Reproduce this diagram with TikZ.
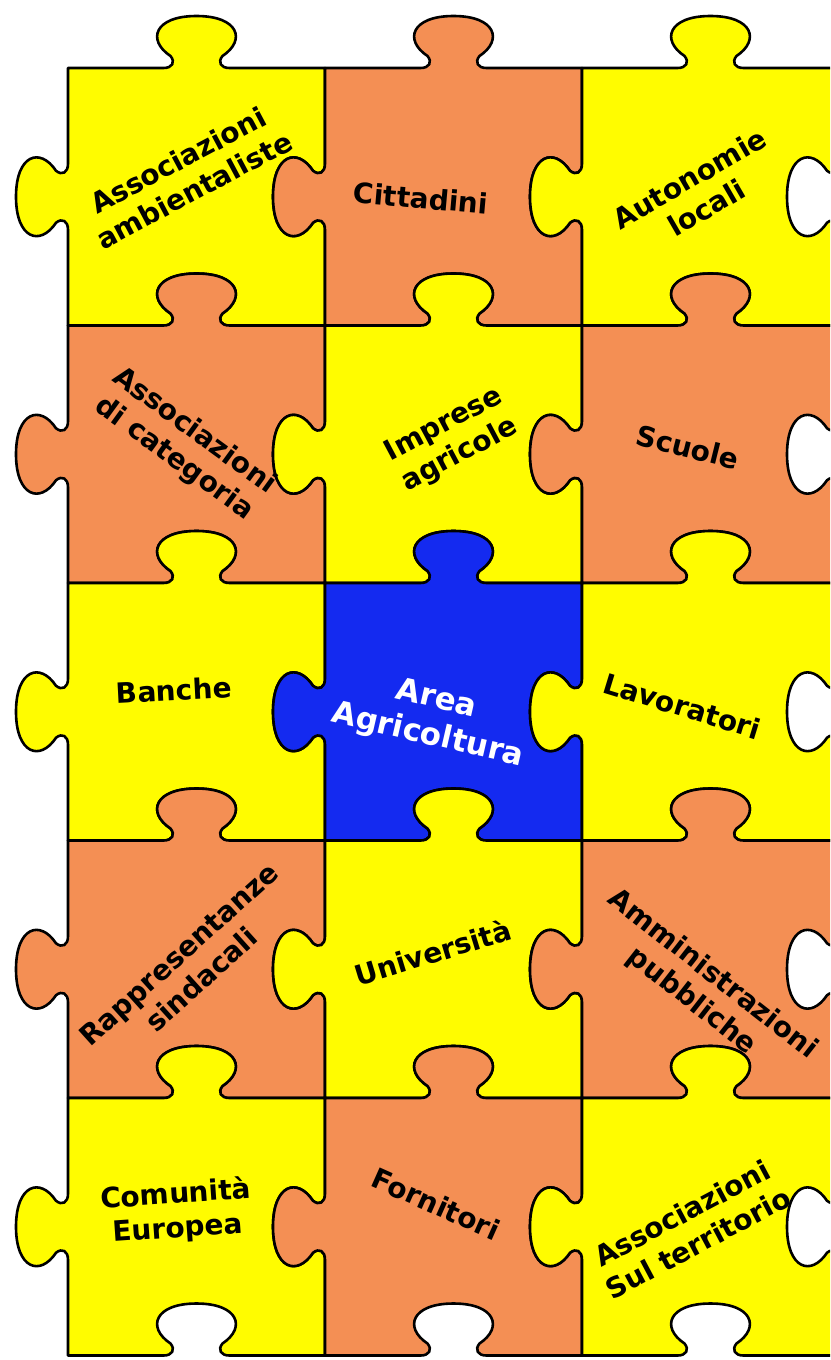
\documentclass[tikz,border=0pt]{standalone}
\usepackage{fontspec}
\setmainfont{DejaVu Sans}
\definecolor{pzyellow}{RGB}{255,252,0}
\definecolor{pzorange}{RGB}{244,143,84}
\definecolor{pzblue}{RGB}{20,42,240}
\tikzset{
  piece/.pic={
    \path[pic actions] (0,0)
      -- (95.5,0) .. controls (104.5,0) and (107.5,-6) .. (102.5,-12)
      .. controls (78.5,-28) and (86.5,-52) .. (128.5,-52)
      .. controls (170.5,-52) and (178.5,-28) .. (154.5,-12)
      .. controls (149.5,-6) and (152.5,0) .. (161.5,0)
      -- (257,0)
      -- (257,95.75) .. controls (257,104.75) and (251,107.75) .. (245,102.75)
      .. controls (229,78.75) and (205,86.75) .. (205,128.75)
      .. controls (205,170.75) and (229,178.75) .. (245,154.75)
      .. controls (251,149.75) and (257,152.75) .. (257,161.75)
      -- (257,257.5)
      -- (161.5,257.5) .. controls (152.5,257.5) and (149.5,251.5) .. (154.5,245.5)
      .. controls (178.5,229.5) and (170.5,205.5) .. (128.5,205.5)
      .. controls (86.5,205.5) and (78.5,229.5) .. (102.5,245.5)
      .. controls (107.5,251.5) and (104.5,257.5) .. (95.5,257.5)
      -- (0,257.5)
      -- (0,161.75) .. controls (0,152.75) and (-6,149.75) .. (-12,154.75)
      .. controls (-28,178.75) and (-52,170.75) .. (-52,128.75)
      .. controls (-52,86.75) and (-28,78.75) .. (-12,102.75)
      .. controls (-6,107.75) and (0,104.75) .. (0,95.75)
      -- cycle;
  },
  pz/.style={draw=black, line width=2.6, line join=round},
  lbl/.style={font=\fontsize{28}{34}\selectfont\bfseries, align=center, text=black, inner sep=0pt},
  wlbl/.style={lbl, text=white, font=\fontsize{31}{37}\selectfont\bfseries}
}
\begin{document}
\begin{tikzpicture}[x=1pt,y=-1pt]
\useasboundingbox (0,0) rectangle (830,1360);
\fill[white] (0,0) rectangle (830,1360);
\clip (0,0) rectangle (830,1360);
% row 1
\pic[pz, fill=pzyellow] (p11) at (68,68) {piece};
\pic[pz, fill=pzorange] (p12) at (325,68) {piece};
\pic[pz, fill=pzyellow] (p13) at (582,68) {piece};
% row 2
\pic[pz, fill=pzorange] (p21) at (68,325.5) {piece};
\pic[pz, fill=pzyellow] (p22) at (325,325.5) {piece};
\pic[pz, fill=pzorange] (p23) at (582,325.5) {piece};
% row 3
\pic[pz, fill=pzyellow] (p31) at (68,583) {piece};
\pic[pz, fill=pzblue] (p32) at (325,583) {piece};
\pic[pz, fill=pzyellow] (p33) at (582,583) {piece};
% row 4
\pic[pz, fill=pzorange] (p41) at (68,840.5) {piece};
\pic[pz, fill=pzyellow] (p42) at (325,840.5) {piece};
\pic[pz, fill=pzorange] (p43) at (582,840.5) {piece};
% row 5
\pic[pz, fill=pzyellow] (p51) at (68,1098) {piece};
\pic[pz, fill=pzorange] (p52) at (325,1098) {piece};
\pic[pz, fill=pzyellow] (p53) at (582,1098) {piece};
% labels
\node[lbl, rotate=28] (t11) at (186,175) {Associazioni\\ambientaliste};
\node[lbl, rotate=-5] (t12) at (421,198) {Cittadini};
\node[lbl, rotate=30] (t13) at (698,193) {Autonomie\\locali};
\node[lbl, rotate=-36] (t21) at (184,445) {Associazioni\\di categoria};
\node[lbl, rotate=28] (t22) at (452,440) {Imprese\\agricole};
\node[lbl, rotate=-14] (t23) at (688,447) {Scuole};
\node[lbl, rotate=3] (t31) at (174,690) {Banche};
\node[wlbl, rotate=-13] (t32) at (432,718) {Area\\Agricoltura};
\node[lbl, rotate=-17] (t33) at (682,706) {Lavoratori};
\node[lbl, rotate=42] (t41) at (190,967) {Rappresentanze\\sindacali};
\node[lbl, rotate=17] (t42) at (433,952) {Università};
\node[lbl, rotate=-38] (t43) at (702,988) {Amministrazioni\\pubbliche};
\node[lbl, rotate=4] (t51) at (177,1212) {Comunità\\Europea};
\node[lbl, rotate=-24] (t52) at (436,1204) {Fornitori};
\node[lbl, rotate=28] (t53) at (690,1228) {Associazioni\\Sul territorio};
\end{tikzpicture}
\end{document}
